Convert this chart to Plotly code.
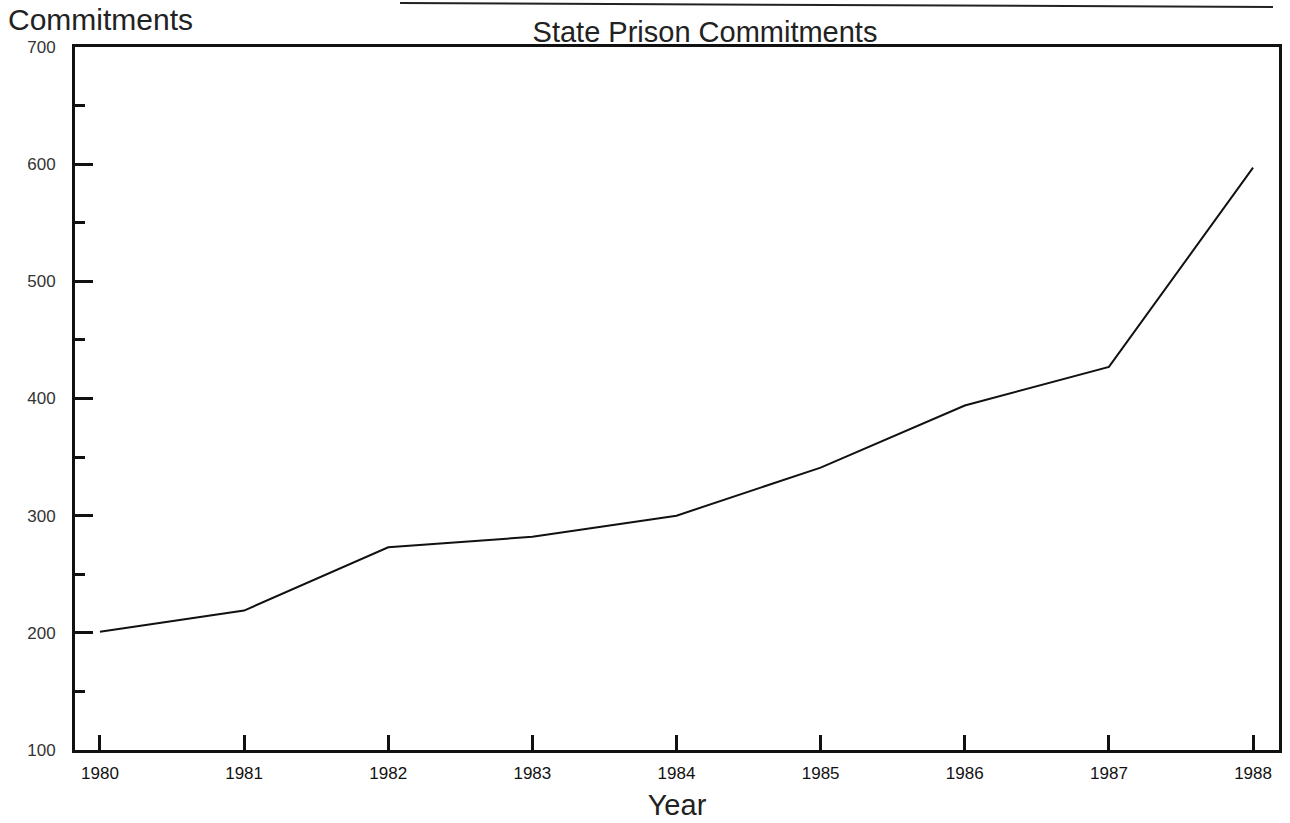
import plotly.graph_objects as go

years = [1980, 1981, 1982, 1983, 1984, 1985, 1986, 1987, 1988]
commitments = [201, 219, 273, 282, 300, 341, 394, 427, 597]
y_ticks = [100, 200, 300, 400, 500, 600, 700]
x_tick_labels = [str(y) for y in years]

FONT = "Liberation Sans, Arial, Helvetica, sans-serif"

L, R, T, B = 75, 11, 47, 73
PW, PH = 1290 - L - R, 823 - T - B

fig = go.Figure()
fig.add_trace(go.Scatter(
    x=years, y=commitments, mode="lines",
    line=dict(color="#111111", width=2),
    showlegend=False, hoverinfo="x+y",
))

fig.update_layout(
    width=1290, height=823,
    margin=dict(l=L, r=R, t=T, b=B, autoexpand=False),
    paper_bgcolor="white", plot_bgcolor="white",
    font=dict(family=FONT, color="#222222"),
    title=dict(text="State Prison Commitments", x=705 / 1290, xanchor="center",
               y=1 - 32 / 823, yanchor="middle", automargin=False,
               font=dict(size=29, color="#222222")),
    xaxis=dict(
        range=[1979.827, 1988.18], tickvals=years, ticktext=x_tick_labels,
        ticks="inside", ticklen=15, tickwidth=3, tickcolor="#111111",
        showline=True, linewidth=3, linecolor="#111111", mirror=True,
        showgrid=False, zeroline=False, automargin=False,
        tickfont=dict(size=17, color="#111111"),
        ticklabelstandoff=6,
        title=dict(text="Year", font=dict(size=29, color="#222222"), standoff=13),
    ),
    yaxis=dict(
        range=[100, 700], tickvals=y_ticks,
        ticks="inside", ticklen=18, tickwidth=3, tickcolor="#111111",
        minor=dict(ticks="inside", ticklen=10, tickwidth=3, tickcolor="#111111", dtick=50, showgrid=False),
        showline=True, linewidth=3, linecolor="#111111", mirror=True,
        showgrid=False, zeroline=False, automargin=False,
        tickfont=dict(size=17, color="#333333"),
        ticklabelstandoff=13,
    ),
    annotations=[
        dict(text="Commitments", xref="paper", yref="paper", x=(6 - L) / PW, y=(750 - 19) / PH,
             xanchor="left", yanchor="middle", showarrow=False,
             font=dict(size=30, color="#222222")),
    ],
    shapes=[
        dict(type="line", xref="paper", yref="paper", x0=(400 - L) / PW, x1=(1273 - L) / PW,
             y0=(750 - 3) / PH, y1=(750 - 7) / PH, line=dict(color="#222222", width=2)),
    ],
)

fig.write_html("out.html", config={"displayModeBar": False},
               post_script="document.body.style.margin='0';")
